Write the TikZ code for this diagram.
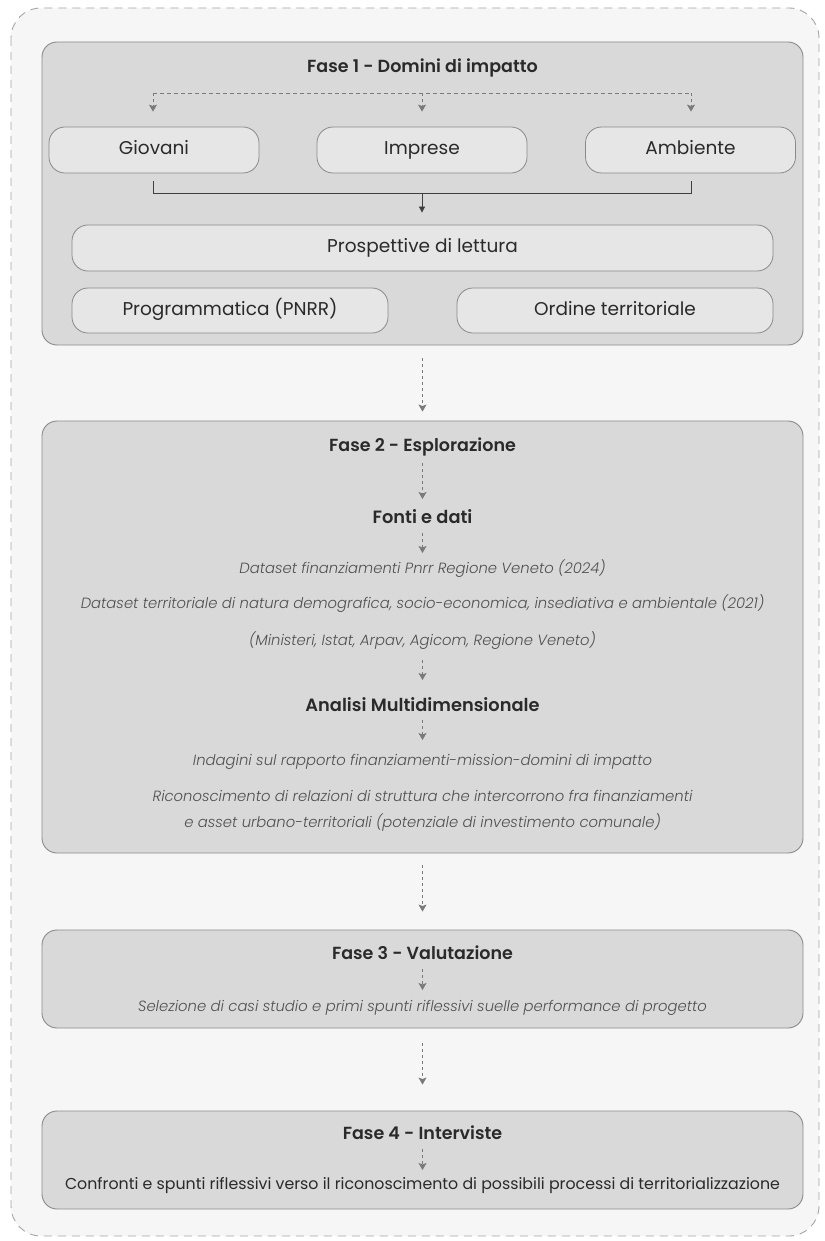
\documentclass[tikz,border=0pt]{standalone}
\usepackage{fontspec}
\setmainfont{Poppins}[BoldFont={* SemiBold}, ItalicFont={* Light Italic}]
\usetikzlibrary{arrows.meta}
\definecolor{outerbg}{HTML}{F6F6F6}
\definecolor{phasebg}{HTML}{D9D9D9}
\definecolor{itembg}{HTML}{E6E6E6}
\definecolor{edge}{HTML}{8A8A8A}
\definecolor{arrowgray}{HTML}{7A7A7A}
\definecolor{txt}{HTML}{2A2A2A}
\definecolor{itxt}{HTML}{505050}
\tikzset{
  phase/.style={draw=edge, line width=0.9pt, fill=phasebg, rounded corners=15pt, inner sep=0pt},
  item/.style={draw=edge, line width=0.8pt, fill=itembg, rounded corners=16pt, inner sep=0pt, font=\fontsize{18.5}{20}\selectfont, text=txt, text height=13pt, text depth=4pt},
  title/.style={font=\bfseries\fontsize{17.5}{20}\selectfont, text=txt, inner sep=0pt},
  subtitle/.style={font=\bfseries\fontsize{17.8}{21}\selectfont, text=txt, inner sep=0pt},
  note/.style={font=\itshape\fontsize{14.8}{26}\selectfont, text=itxt, inner sep=0pt, align=center},
  plain/.style={font=\fontsize{15.8}{18}\selectfont, text=txt, inner sep=0pt},
  darr/.style={draw=arrowgray, line width=0.8pt, dash pattern=on 3pt off 3pt, -{Stealth[length=7pt,width=8pt,inset=1.5pt,fill=arrowgray]}},
  sarr/.style={draw=black!75, line width=0.8pt, -{Triangle[length=6pt,width=6pt]}},
}
\begin{document}
\begin{tikzpicture}[x=1pt,y=-1pt]
\useasboundingbox (0,0) rectangle (824,1241);
\fill[white] (0,0) rectangle (824,1241);
% outer dashed frame
\draw[draw=black!35, line width=0.9pt, dash pattern=on 8pt off 6pt, fill=outerbg, rounded corners=30pt] (11,8) rectangle (819,1236);

% ---------- Phase 1
\node[phase, minimum width=761pt, minimum height=303pt] (p1) at (422.5,193.5) {};
\node[title] (t1) at (422.5,68) {Fase 1 - Domini di impatto};
\node[item, minimum width=210pt, minimum height=46pt] (giov) at (154,150) {Giovani};
\node[item, minimum width=210pt, minimum height=46pt] (impr) at (422,150) {Imprese};
\node[item, minimum width=210pt, minimum height=46pt] (amb) at (690.5,150) {Ambiente};
\coordinate (dl) at (153,93);
\coordinate (dm) at (422,93);
\coordinate (dr) at (691,93);
\draw[draw=arrowgray, line width=0.8pt, dash pattern=on 4pt off 3pt] (dl) -- (dr);
\draw[darr, shorten >=15pt] (dl) -- (dl |- giov.north);
\draw[darr, shorten >=15pt] (dm) -- (dm |- impr.north);
\draw[darr, shorten >=15pt] (dr) -- (dr |- amb.north);
\node[item, minimum width=701pt, minimum height=46pt] (prosp) at (422.5,248) {Prospettive di lettura};
\coordinate (jl) at (153,193);
\coordinate (jr) at (691,193);
\coordinate (jm) at (422,193);
\draw[draw=black!75, line width=0.8pt] ([yshift=-8pt]giov.south -| jl) -- (jl) -- (jr) -- ([yshift=-8pt]amb.south -| jr);
\draw[sarr, shorten >=12pt] (jm) -- (jm |- prosp.north);
\node[item, minimum width=316pt, minimum height=45pt] (prog) at (230,310.5) {Programmatica (PNRR)};
\node[item, minimum width=316pt, minimum height=45pt] (ord) at (615,310.5) {Ordine territoriale};

% ---------- Phase 2
\node[phase, minimum width=761pt, minimum height=432pt] (p2) at (422.5,637) {};
\draw[darr, shorten <=13pt, shorten >=9pt] (p1.south) -- (p2.north);
\node[title] (t2) at (422.5,447) {Fase 2 - Esplorazione};
\node[subtitle] (fonti) at (422.5,517) {Fonti e dati};
\draw[darr, shorten <=16pt, shorten >=18pt] (t2.center) -- (fonti.center);
\node[note] (ds1) at (422.5,569) {Dataset finanziamenti Pnrr Regione Veneto (2024)};
\draw[darr, shorten <=16pt, shorten >=16pt] (fonti.center) -- (ds1.center);
\node[note] (ds2) at (422.5,603.5) {Dataset territoriale di natura demografica, socio-economica, insediativa e ambientale (2021)};
\node[note] (ds3) at (422.5,641) {(Ministeri, Istat, Arpav, Agicom, Regione Veneto)};
\node[subtitle] (anal) at (422.5,705) {Analisi Multidimensionale};
\draw[darr, shorten <=19pt, shorten >=25pt] (ds3.center) -- (anal.center);
\node[note] (ind) at (422.5,762) {Indagini sul rapporto finanziamenti-mission-domini di impatto};
\draw[darr, shorten <=15pt, shorten >=22pt] (anal.center) -- (ind.center);
\node[note] (ric) at (422.5,811) {Riconoscimento di relazioni di struttura che intercorrono fra finanziamenti\\e asset urbano-territoriali (potenziale di investimento comunale)};

% ---------- Phase 3
\node[phase, minimum width=761pt, minimum height=98pt] (p3) at (422.5,979) {};
\draw[darr, shorten <=12pt, shorten >=18pt] (p2.south) -- (p3.north);
\node[title] (t3) at (422.5,953) {Fase 3 - Valutazione};
\node[note] (sel) at (422.5,1008) {Selezione di casi studio e primi spunti riflessivi suelle performance di progetto};
\draw[darr, shorten <=16pt, shorten >=18pt] (t3.center) -- (sel.center);

% ---------- Phase 4
\node[phase, minimum width=761pt, minimum height=98pt] (p4) at (422.5,1160) {};
\draw[darr, shorten <=15pt, shorten >=26pt] (p3.south) -- (p4.north);
\node[title] (t4) at (422.5,1133) {Fase 4 - Interviste};
\node[plain] (conf) at (422.5,1186) {Confronti e spunti riflessivi verso il riconoscimento di possibili processi di territorializzazione};
\draw[darr, shorten <=16pt, shorten >=16pt] (t4.center) -- (conf.center);
\end{tikzpicture}
\end{document}
